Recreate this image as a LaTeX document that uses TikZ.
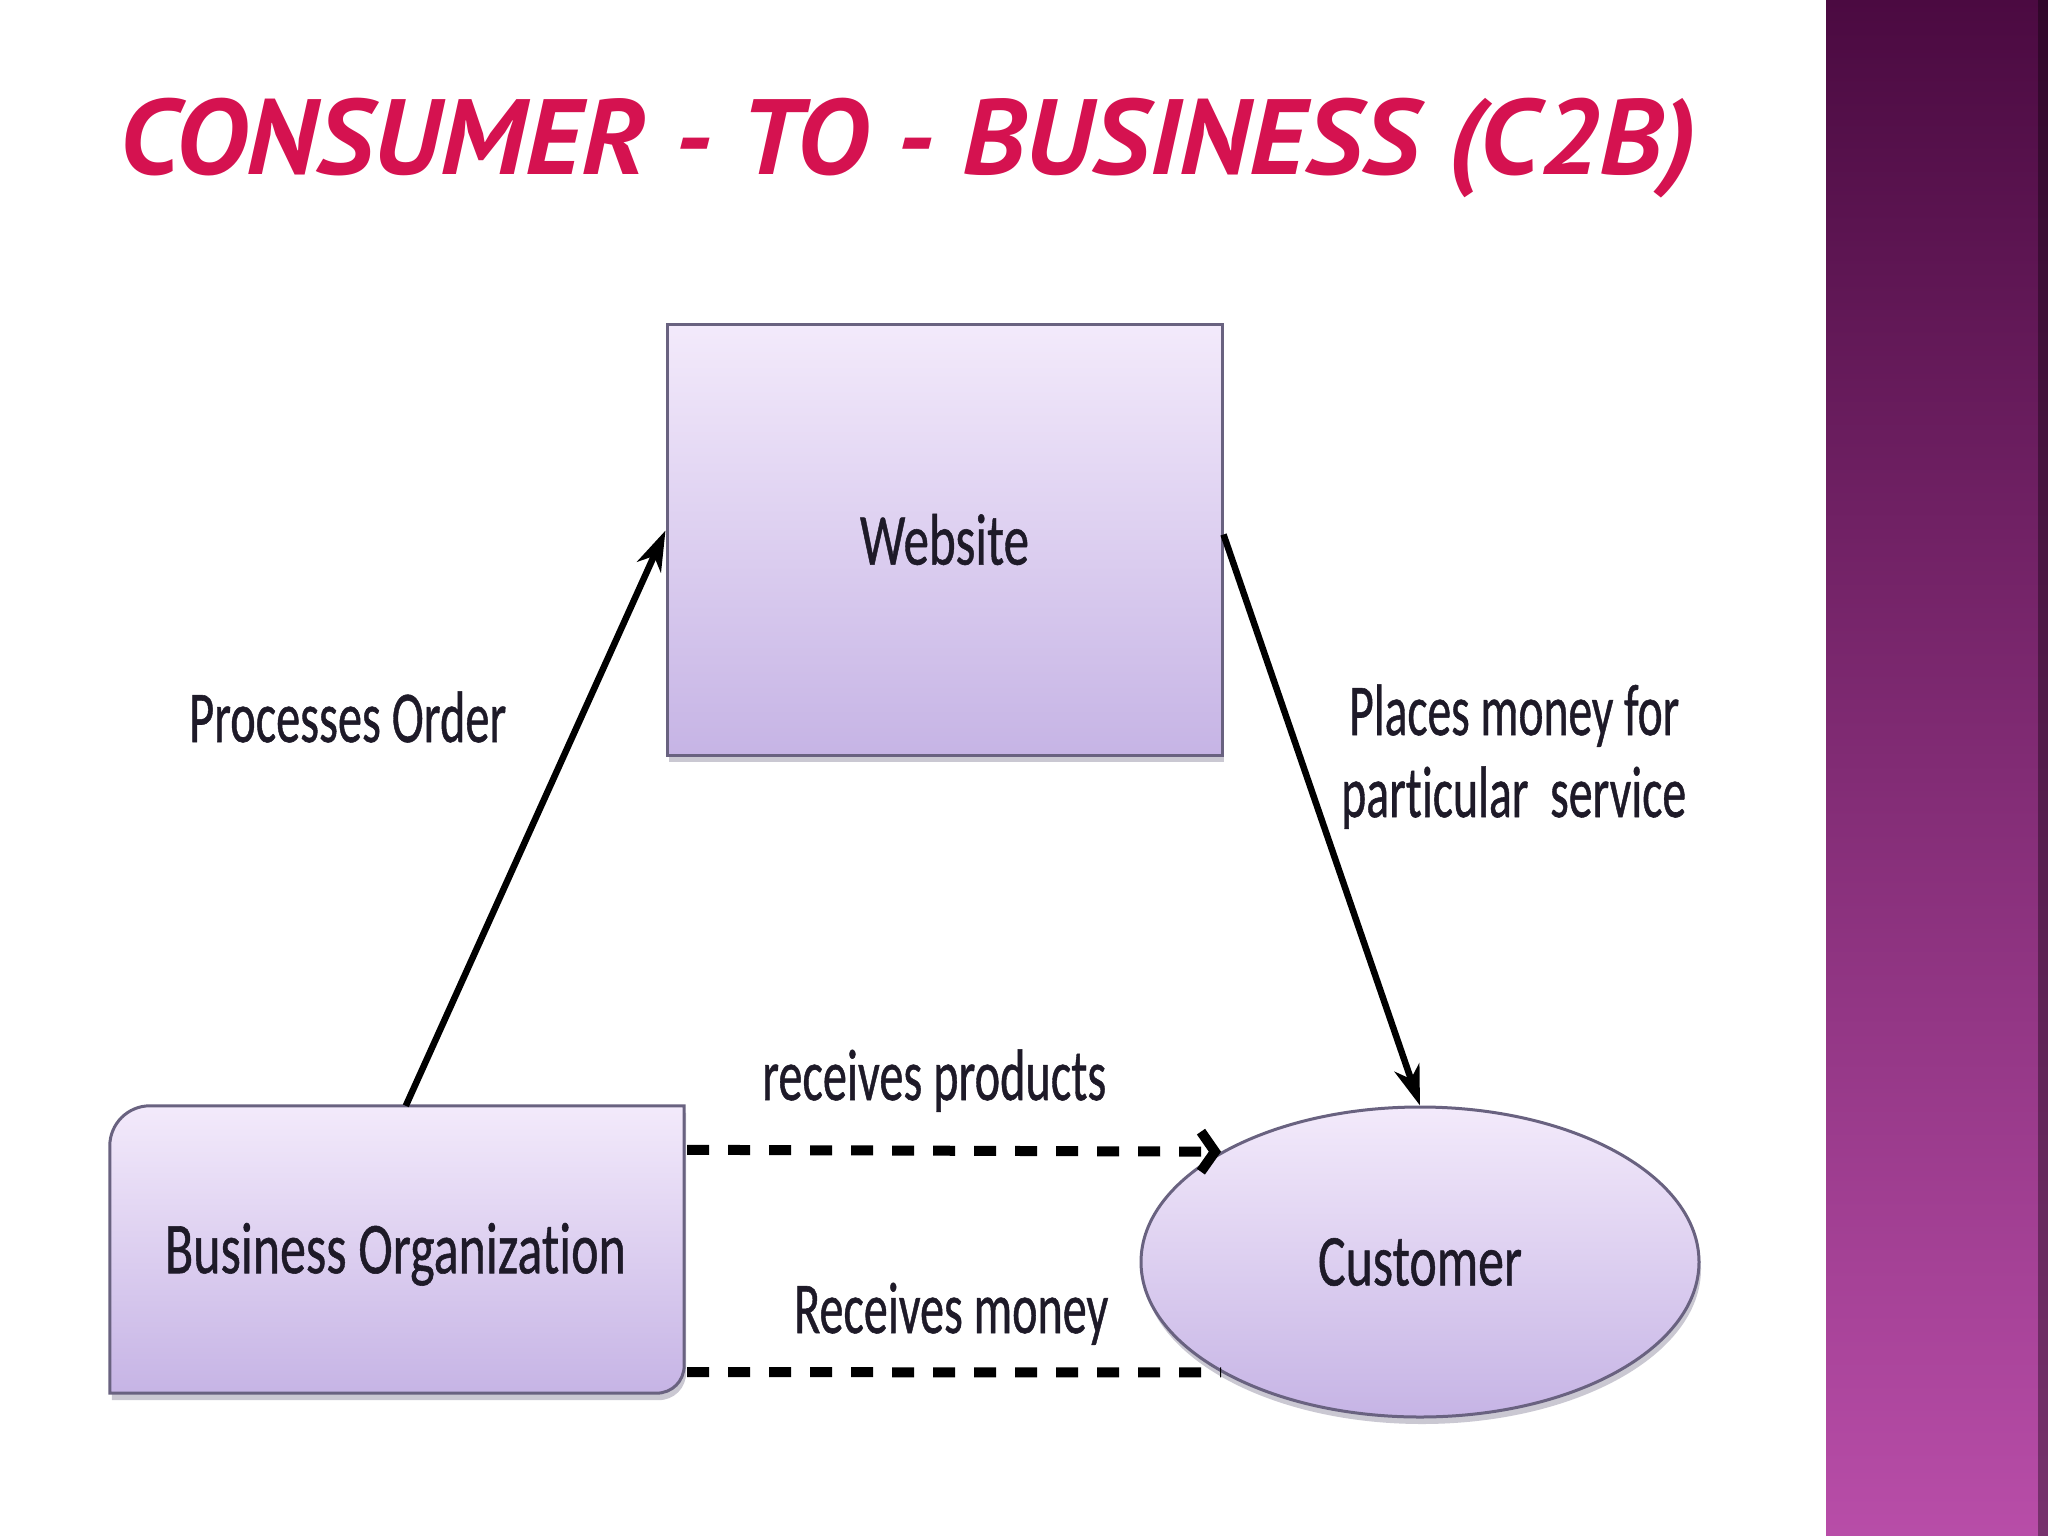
\documentclass[tikz,border=0pt]{standalone}
\usepackage{fontspec}
\setmainfont{Carlito}[Ligatures=NoCommon, FakeBold=0.8]
\newfontfamily\titlefont{PT Sans}
\usetikzlibrary{arrows.meta,shadows,calc,shapes.geometric}

\definecolor{titlered}{RGB}{213,18,80}
\definecolor{boxtop}{RGB}{243,234,251}
\definecolor{boxbot}{RGB}{198,180,229}
\definecolor{boxline}{RGB}{105,98,128}
\definecolor{bartop}{RGB}{75,10,65}
\definecolor{barmid}{RGB}{128,46,116}
\definecolor{barbot}{RGB}{184,77,168}
\definecolor{inktext}{RGB}{30,26,40}

\newcommand{\mylbl}[2]{\resizebox{#1pt}{\height}{\fontsize{73}{80}\selectfont #2}}

\begin{document}
\begin{tikzpicture}[x=1pt,y=-1pt,
  shapebox/.style={draw=boxline, line width=3pt, top color=boxtop, bottom color=boxbot,
    drop shadow={shadow xshift=2pt, shadow yshift=-7pt, opacity=0.35, fill=boxline}},
  solidarrow/.style={line width=6.5pt, -{Stealth[length=40pt,width=26pt,inset=12pt]}},
  dashline/.style={line width=10pt, dash pattern=on 22pt off 19pt},
  dasharrow/.style={dashline, -{Straight Barb[length=14pt,width=40pt]}},
  lbl/.style={inner sep=0pt, anchor=base west, text=inktext},
  boxtext/.style={inner sep=0pt, text=inktext}]

% canvas
\useasboundingbox (0,0) rectangle (2048,1536);
\fill[white] (0,0) rectangle (2048,1536);

% right decorative bar
\shade[top color=bartop, middle color=barmid, bottom color=barbot] (1826,0) rectangle (2048,1536);
\fill[black, opacity=0.35] (2038,0) rectangle (2048,1536);

% title
\node[anchor=base west, inner sep=0pt, text=titlered] (title) at (119,175)
  {\resizebox{1578pt}{\height}{\titlefont\fontsize{107}{110}\selectfont\bfseries\itshape CONSUMER - TO - BUSINESS (C2B)}};

% Website box
\node[shapebox, boxtext, minimum width=555pt, minimum height=431pt] (website) at (944.5,539.5)
  {\mylbl{169}{Website}};

% Customer ellipse
\node[shapebox, boxtext, ellipse, minimum width=558pt, minimum height=310pt] (customer) at (1420,1262)
  {\mylbl{204}{Customer}};

% Business Organization box (top-left and bottom-right corners rounded)
\node[inner sep=0pt, minimum width=574pt, minimum height=287pt] (bo) at (397,1249.5) {};
\path[shapebox]
  (bo.south west) -- ($(bo.north west)+(0,40)$)
  .. controls ($(bo.north west)+(0,18)$) and ($(bo.north west)+(18,0)$) .. ($(bo.north west)+(40,0)$)
  -- (bo.north east) -- ($(bo.south east)+(0,-28)$)
  .. controls ($(bo.south east)+(0,-12)$) and ($(bo.south east)+(-12,0)$) .. ($(bo.south east)+(-28,0)$)
  -- cycle;
\node[boxtext, anchor=base] (botext) at ($(bo.south)+(-1.5,-120)$) {\mylbl{461}{Business Organization}};

% connectors
\draw[solidarrow] ($(bo.north west)+(296,0)$) -- ($(website.west)+(0,-9)$);
\draw[solidarrow] ($(website.east)+(0,-5)$) -- (customer.north);
\draw[dasharrow] ($(bo.north east)+(3,44)$) -- (customer.151);
\draw[dashline] ($(bo.south east)+(3,-21)$) -- (customer.209);

% labels
\node[lbl] (lproc) at (189,742) {\mylbl{317}{Processes Order}};
\node[lbl] (lplace1) at (1349,735) {\mylbl{330}{Places money for}};
\node[lbl] (lplace2) at (1341,817) {\mylbl{345}{particular\ \ service}};
\node[lbl] (lrecp) at (762,1100) {\mylbl{344}{receives products}};
\node[lbl] (lrecm) at (794,1333) {\mylbl{314}{Receives money}};
\end{tikzpicture}
\end{document}
